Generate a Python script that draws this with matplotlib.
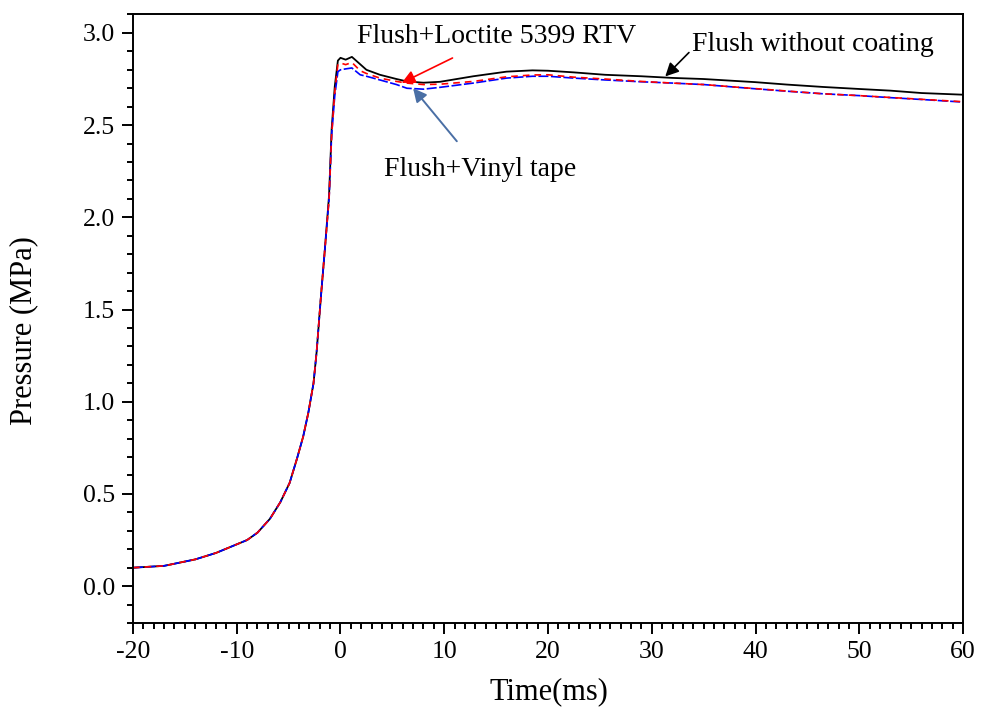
"""Pressure history for the three flush-mounted sensor configurations."""
import matplotlib
matplotlib.use("Agg")
import matplotlib.pyplot as plt
from matplotlib.ticker import MultipleLocator

plt.rcParams["font.family"] = ["Liberation Serif", "DejaVu Serif"]
plt.rcParams["axes.unicode_minus"] = False

# time axis shared by all three traces (ms)
time_ms = [-20, -17, -14, -12, -10.5, -9, -8, -6.8, -5.8, -4.9, -4.2, -3.6, -3.1,
           -2.6, -2.3, -1.9, -1.5, -1.1, -0.85, -0.55, -0.25, 0, 0.5, 1.1, 1.9,
           2.5, 3.8, 5.4, 6.4, 8, 9.6, 12.8, 16, 18.5, 20, 22.5, 25.5, 29, 32,
           35, 40, 43, 46.5, 50, 53, 56, 60]

# pressure (MPa)
p_plain = [0.10, 0.11, 0.145, 0.18, 0.215, 0.25, 0.29, 0.365, 0.455, 0.56, 0.69,
           0.81, 0.94, 1.10, 1.27, 1.56, 1.83, 2.12, 2.48, 2.71, 2.85, 2.865,
           2.855, 2.87, 2.83, 2.80, 2.773, 2.75, 2.737, 2.73, 2.735, 2.765,
           2.79, 2.797, 2.795, 2.786, 2.773, 2.765, 2.756, 2.75, 2.733, 2.72,
           2.707, 2.696, 2.687, 2.674, 2.665]
p_loctite = [0.10, 0.11, 0.145, 0.18, 0.215, 0.25, 0.29, 0.365, 0.455, 0.56, 0.69,
             0.81, 0.94, 1.10, 1.27, 1.56, 1.83, 2.10, 2.45, 2.68, 2.83, 2.837,
             2.828, 2.84, 2.795, 2.78, 2.755, 2.737, 2.728, 2.72, 2.722, 2.737,
             2.762, 2.772, 2.773, 2.76, 2.75, 2.737, 2.728, 2.72, 2.698, 2.685,
             2.67, 2.66, 2.65, 2.64, 2.627]
p_vinyl = [0.10, 0.11, 0.145, 0.18, 0.215, 0.25, 0.29, 0.365, 0.455, 0.56, 0.69,
           0.81, 0.94, 1.10, 1.27, 1.56, 1.83, 2.10, 2.45, 2.66, 2.79, 2.80,
           2.805, 2.81, 2.773, 2.765, 2.745, 2.72, 2.70, 2.695, 2.705, 2.728,
           2.755, 2.765, 2.765, 2.755, 2.745, 2.735, 2.728, 2.72, 2.697, 2.684,
           2.67, 2.66, 2.649, 2.639, 2.625]

fig = plt.figure(figsize=(9.82, 7.10), dpi=100)
ax = fig.add_axes([0.1354, 0.1225, 0.8453, 0.8571])

ax.plot(time_ms, p_plain, color="black", lw=1.3)
ax.plot(time_ms, p_vinyl, color="blue", lw=1.2, ls=(0, (6, 1.5)))
ax.plot(time_ms, p_loctite, color="red", lw=1.2, ls=(0, (4, 3)))

ax.set_xlim(-20, 60)
ax.set_ylim(-0.2, 3.1)
ax.xaxis.set_major_locator(MultipleLocator(10))
ax.xaxis.set_minor_locator(MultipleLocator(1))
ax.yaxis.set_major_locator(MultipleLocator(0.5))
ax.yaxis.set_minor_locator(MultipleLocator(0.1))
ax.yaxis.set_major_formatter(plt.FormatStrFormatter("%.1f"))
ax.tick_params(which="both", direction="out", width=1.4, labelsize=18.5,
               top=False, right=False)
ax.tick_params(which="major", length=8, pad=5)
ax.tick_params(which="minor", length=4)
for sp in ax.spines.values():
    sp.set_linewidth(1.4)

ax.set_xlabel("Time(ms)", fontsize=22)
ax.set_ylabel("Pressure (MPa)", fontsize=22)
ax.xaxis.set_label_coords(0.501, -0.089)
ax.yaxis.set_label_coords(-0.1145, 0.48)

ax.annotate("Flush+Loctite 5399 RTV", xy=(5.9, 2.729), xytext=(15.0, 2.98),
            fontsize=20, ha="center", va="center",
            arrowprops=dict(arrowstyle="-|>", color="red", lw=1.2,
                            mutation_scale=20, shrinkA=10, shrinkB=0))
ax.annotate("Flush+Vinyl tape", xy=(7.0, 2.70), xytext=(13.45, 2.26),
            fontsize=20, ha="center", va="center",
            arrowprops=dict(arrowstyle="-|>", color="#4a6fa5", lw=1.4,
                            mutation_scale=20, shrinkA=12, shrinkB=0))
ax.annotate("Flush without coating", xy=(31.3, 2.764), xytext=(45.5, 2.936),
            fontsize=20, ha="center", va="center",
            arrowprops=dict(arrowstyle="-|>", color="black", lw=1.2,
                            mutation_scale=20, shrinkA=0, shrinkB=0,
                            relpos=(0.0, 0.3)))

fig.savefig("out.png", dpi=100)
